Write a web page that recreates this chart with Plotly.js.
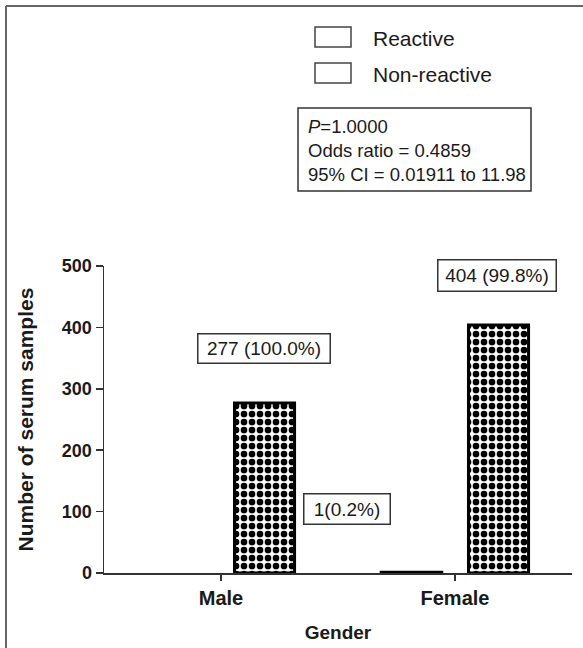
<!DOCTYPE html>
<html>
<head>
<meta charset="utf-8">
<script src="https://cdn.plot.ly/plotly-3.0.1.min.js"></script>
<style>html,body{margin:0;padding:0;background:#fff;}#chart{width:583px;height:648px;}</style>
</head>
<body>
<div id="chart"></div>
<script>
// ---- data ----
const categories = ["Male", "Female"];
const reactive = [0, 1];
const nonReactive = [277, 404];
const seriesNames = ["Reactive", "Non-reactive"];
const yTicks = [0, 100, 200, 300, 400, 500];
const statsLines = ["<i>P</i>=1.0000", "Odds ratio = 0.4859", "95% CI = 0.01911 to 11.98"];

// ---- layout helpers (pixel -> paper) ----
const W = 583, H = 648;
const M = {l: 104, r: 11, t: 266, b: 75};
const PW = W - M.l - M.r, PH = H - M.t - M.b;
const px = x => (x - M.l) / PW;
const py = y => 1 - (y - M.t) / PH;

const FONT = "Liberation Sans, Arial, sans-serif";
const INK = "#1a1a1a";

function pct(v, total) { return (100 * v / total).toFixed(1) + "%"; }
const totals = categories.map((c, i) => reactive[i] + nonReactive[i]);

const traces = [
  {
    type: "bar", name: seriesNames[0], x: categories, y: reactive,
    marker: {color: "white", line: {color: "black", width: reactive.map(v => v > 0 ? 3.5 : 0)}},
    showlegend: false, hoverinfo: "x+y"
  },
  {
    type: "bar", name: seriesNames[1], x: categories, y: nonReactive,
    marker: {
      color: "white", line: {color: "black", width: 3},
      pattern: {shape: ".", size: 8, solidity: 0.55, fgcolor: "black", bgcolor: "white", fillmode: "replace"}
    },
    showlegend: false, hoverinfo: "x+y"
  }
];

function boxLabel(text, cx, cy, w, h) {
  return {
    xref: "paper", yref: "paper", x: px(cx), y: py(cy), xanchor: "center", yanchor: "middle",
    text: text, showarrow: false, width: w, height: h,
    font: {family: FONT, size: 19, color: INK},
    bordercolor: "#333", borderwidth: 1.5, borderpad: 1, bgcolor: "white"
  };
}

const annotations = [
  boxLabel(nonReactive[0] + " (" + pct(nonReactive[0], totals[0]) + ")", 264, 348.5, 129, 26),
  boxLabel(reactive[1] + "(" + pct(reactive[1], totals[1]) + ")", 347, 509, 83, 27),
  boxLabel(nonReactive[1] + " (" + pct(nonReactive[1], totals[1]) + ")", 497, 275.5, 115, 28),
  {
    xref: "paper", yref: "paper", x: px(306), y: py(150), xanchor: "left", yanchor: "middle",
    text: statsLines.join("<br>"), align: "left", showarrow: false,
    font: {family: FONT, size: 18.5, color: INK}
  },
  {
    xref: "paper", yref: "paper", x: px(371), y: py(38), xanchor: "left", yanchor: "middle",
    text: seriesNames[0], showarrow: false, font: {family: FONT, size: 21, color: INK}
  },
  {
    xref: "paper", yref: "paper", x: px(371), y: py(74), xanchor: "left", yanchor: "middle",
    text: seriesNames[1], showarrow: false, font: {family: FONT, size: 21, color: INK}
  }
];

const shapes = [
  // frame (top + left)
  {type: "line", xref: "paper", yref: "paper", x0: px(6), x1: px(583), y0: py(6), y1: py(6), line: {color: "#666", width: 2}},
  {type: "line", xref: "paper", yref: "paper", x0: px(6), x1: px(6), y0: py(6), y1: py(648), line: {color: "#666", width: 2}},
  // legend swatches
  {type: "rect", xref: "paper", yref: "paper", x0: px(315), x1: px(351), y0: py(27), y1: py(47), line: {color: "#444", width: 1.5}, fillcolor: "white"},
  {type: "rect", xref: "paper", yref: "paper", x0: px(315), x1: px(351), y0: py(63), y1: py(83), line: {color: "#444", width: 1.5}, fillcolor: "white"},
  // stats box
  {type: "rect", xref: "paper", yref: "paper", x0: px(298), x1: px(531), y0: py(108), y1: py(191), line: {color: "#333", width: 1.5}, fillcolor: "rgba(0,0,0,0)"}
];

const layout = {
  width: W, height: H,
  margin: M,
  paper_bgcolor: "white", plot_bgcolor: "white",
  barmode: "group", bargap: 0.256, bargroupgap: 0.31,
  showlegend: false,
  xaxis: {
    type: "category", range: [-0.5, 1.5],
    showline: true, linecolor: "#333", linewidth: 1.5,
    ticks: "outside", ticklen: 6, tickwidth: 1.5, tickcolor: "#333",
    showgrid: false, zeroline: false,
    tickfont: {family: FONT, size: 20, color: INK, weight: "bold"},
    title: {text: "Gender", font: {family: FONT, size: 19, color: INK, weight: "bold"}, standoff: 18}
  },
  yaxis: {
    range: [0, 500], tickvals: yTicks, ticktext: yTicks.map(String),
    showline: true, linecolor: "#333", linewidth: 1.5,
    ticks: "outside", ticklen: 7, tickwidth: 1.5, tickcolor: "#333",
    showgrid: false, zeroline: false,
    tickfont: {family: FONT, size: 18, color: INK, weight: "bold"},
    title: {text: "Number of serum samples", font: {family: FONT, size: 21, color: INK, weight: "bold"}, standoff: 22}
  },
  annotations: annotations,
  shapes: shapes
};

Plotly.newPlot("chart", traces, layout, {displayModeBar: false, staticPlot: true});
</script>
</body>
</html>
